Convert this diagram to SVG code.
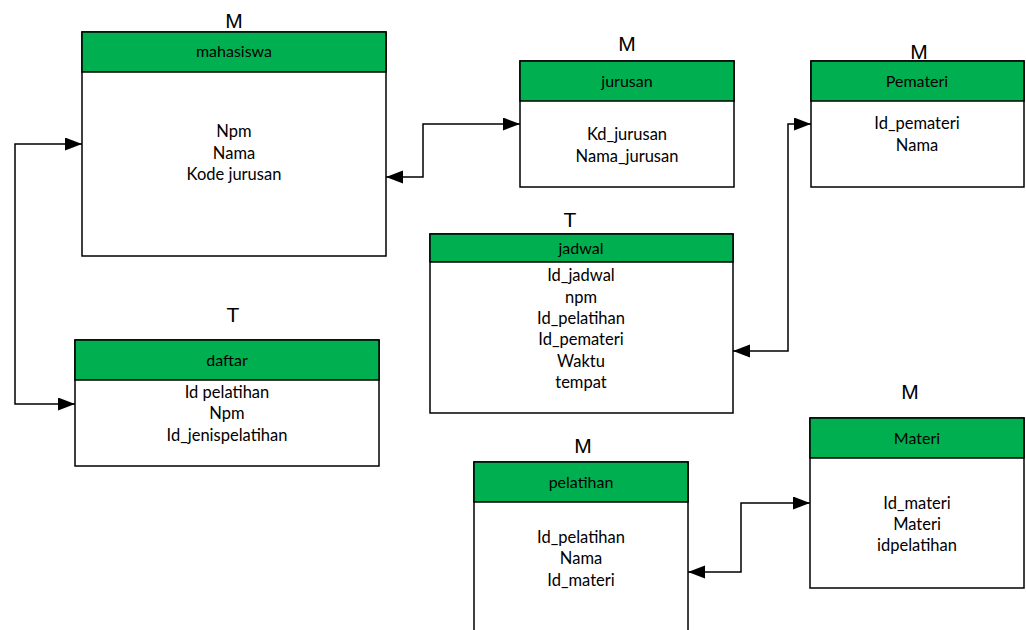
<svg xmlns="http://www.w3.org/2000/svg" width="1026" height="630" viewBox="0 0 1026 630">
  <style>
    .box { fill: #ffffff; stroke: #000000; stroke-width: 1.5; }
    .head { fill: #00b050; stroke: #000000; stroke-width: 1.5; }
    .title { font-family: Lato, "Open Sans", sans-serif; font-size: 16px; fill: #000000; text-anchor: middle; }
    .field { font-family: Lato, "Open Sans", sans-serif; font-size: 16.5px; fill: #000000; text-anchor: middle; }
    .kind { font-family: "Liberation Sans", Arial, sans-serif; font-size: 21px; fill: #000000; text-anchor: middle; }
    .link { fill: none; stroke: #000000; stroke-width: 1.5; marker-start: url(#arrow); marker-end: url(#arrow); }
  </style>
  <defs>
    <marker id="arrow" markerUnits="userSpaceOnUse" markerWidth="18" markerHeight="14" refX="17" refY="6.5" orient="auto-start-reverse">
      <path d="M0,0 L17,6.5 L0,13 Z" fill="#000000"/>
    </marker>
  </defs>

  <rect width="1026" height="630" fill="#ffffff"/>

  <g id="connectors">
    <path class="link" d="M82,144 H15 V404 H75"/>
    <path class="link" d="M386,177 H423 V124 H520"/>
    <path class="link" d="M733,351 H788 V124 H811"/>
    <path class="link" d="M688,572 H741 V503 H810"/>
  </g>

  <g id="mahasiswa">
    <text class="kind" x="234" y="28">M</text>
    <rect class="box" x="82" y="32" width="304" height="224"/>
    <rect class="head" x="82" y="32" width="304" height="40"/>
    <text class="title" x="234" y="57">mahasiswa</text>
    <text class="field" x="234" y="137">Npm</text>
    <text class="field" x="234" y="159">Nama</text>
    <text class="field" x="234" y="180">Kode jurusan</text>
  </g>

  <g id="jurusan">
    <text class="kind" x="627" y="51">M</text>
    <rect class="box" x="520" y="61" width="214" height="126"/>
    <rect class="head" x="520" y="61" width="214" height="40"/>
    <text class="title" x="627" y="87">jurusan</text>
    <text class="field" x="627" y="140">Kd_jurusan</text>
    <text class="field" x="627" y="162">Nama_jurusan</text>
  </g>

  <g id="pemateri">
    <rect class="box" x="811" y="61" width="213" height="126"/>
    <rect class="head" x="811" y="61" width="213" height="40"/>
    <text class="kind" x="919" y="59">M</text>
    <text class="title" x="917" y="87">Pemateri</text>
    <text class="field" x="917" y="129">Id_pemateri</text>
    <text class="field" x="917" y="151">Nama</text>
  </g>

  <g id="jadwal">
    <text class="kind" x="570" y="227">T</text>
    <rect class="box" x="430" y="234" width="303" height="179"/>
    <rect class="head" x="430" y="234" width="303" height="28"/>
    <text class="title" x="581" y="254">jadwal</text>
    <text class="field" x="581" y="281">Id_jadwal</text>
    <text class="field" x="581" y="303">npm</text>
    <text class="field" x="581" y="324">Id_pelatihan</text>
    <text class="field" x="581" y="345">Id_pemateri</text>
    <text class="field" x="581" y="367">Waktu</text>
    <text class="field" x="581" y="388">tempat</text>
  </g>

  <g id="daftar">
    <text class="kind" x="233" y="322">T</text>
    <rect class="box" x="75" y="340" width="304" height="126"/>
    <rect class="head" x="75" y="340" width="304" height="40"/>
    <text class="title" x="227" y="366">daftar</text>
    <text class="field" x="227" y="398">Id pelatihan</text>
    <text class="field" x="227" y="419">Npm</text>
    <text class="field" x="227" y="441">Id_jenispelatihan</text>
  </g>

  <g id="materi">
    <text class="kind" x="910" y="399">M</text>
    <rect class="box" x="810" y="418" width="214" height="170"/>
    <rect class="head" x="810" y="418" width="214" height="40"/>
    <text class="title" x="917" y="444">Materi</text>
    <text class="field" x="917" y="509">Id_materi</text>
    <text class="field" x="917" y="530">Materi</text>
    <text class="field" x="917" y="551">idpelatihan</text>
  </g>

  <g id="pelatihan">
    <text class="kind" x="583" y="453">M</text>
    <rect class="box" x="474" y="462" width="214" height="190"/>
    <rect class="head" x="474" y="462" width="214" height="40"/>
    <text class="title" x="581" y="488">pelatihan</text>
    <text class="field" x="581" y="543">Id_pelatihan</text>
    <text class="field" x="581" y="564">Nama</text>
    <text class="field" x="581" y="586">Id_materi</text>
  </g>
</svg>
